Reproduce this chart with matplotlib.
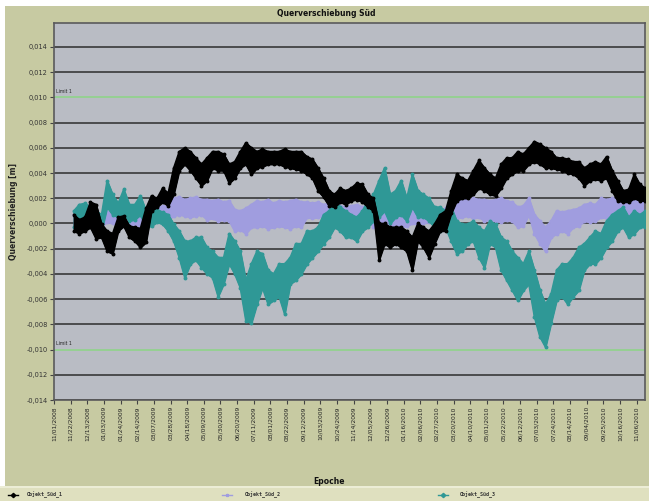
import numpy as np
import matplotlib.pyplot as plt
import matplotlib.dates as mdates
from matplotlib.lines import Line2D
from matplotlib.patches import Rectangle

# weekly samples, values in mm (upper / lower edge of the noisy band)
start = np.datetime64('2008-11-26')
step_days = 7

black_hi = [0.7, 0.3, 0.5, 1.7, 1.5, -0.05, -0.6, -0.8, 0.5, 0.6,
            -0.2, -0.3, -0.4, 1.2, 2.2, 2.0, 2.8, 2.4, 4.4, 5.7,
            6.0, 5.7, 5.2, 4.7, 5.2, 5.7, 5.7, 5.5, 4.7, 4.9,
            5.7, 6.4, 6.0, 5.7, 5.9, 5.7, 5.7, 5.7, 5.9, 5.7,
            5.7, 5.7, 5.3, 5.1, 4.4, 3.6, 2.6, 2.3, 2.8, 2.6,
            2.8, 3.2, 3.1, 2.3, 2.0, 0.0, 0.0, -0.3, -0.3, -0.3,
            -0.6, -1.1, 0.0, -0.3, -0.6, -0.05, 0.7, 1.0, 2.6, 3.9,
            3.6, 3.4, 4.2, 5.0, 4.4, 3.9, 3.6, 4.7, 5.2, 5.2,
            5.7, 5.5, 6.0, 6.5, 6.3, 6.0, 5.7, 5.2, 5.2, 5.1,
            4.9, 4.9, 4.4, 4.7, 4.9, 4.7, 5.3, 4.2, 3.4, 2.6,
            2.7, 3.9, 3.1, 2.8]
black_lo = [-0.6, -0.8, -0.6, -0.3, -1.2, -1.1, -2.2, -2.4, -0.6, -0.2,
            -1.1, -1.4, -1.9, -1.5, 1.0, 1.3, 1.7, 1.4, 2.3, 4.2,
            4.7, 4.2, 3.6, 3.0, 3.4, 4.4, 4.2, 4.2, 3.2, 3.6,
            4.4, 4.7, 3.9, 4.4, 4.5, 4.7, 4.7, 4.7, 4.5, 4.4,
            4.3, 4.2, 3.9, 3.6, 2.6, 2.1, 1.4, 1.3, 1.7, 1.5,
            1.8, 1.9, 1.7, 1.3, 1.0, -2.9, -1.6, -1.9, -1.6, -1.9,
            -2.2, -3.7, -1.4, -1.9, -2.7, -1.6, -0.6, -0.6, 0.8, 1.8,
            2.0, 2.0, 2.3, 2.8, 2.6, 2.3, 2.2, 2.8, 3.6, 3.9,
            4.2, 4.2, 4.7, 4.9, 4.7, 4.4, 4.4, 4.3, 4.2, 4.0,
            3.9, 3.6, 3.0, 3.4, 3.5, 3.4, 3.6, 2.6, 1.8, 1.7,
            1.7, 2.0, 1.8, 1.8]

lav_hi = [0.7, 0.6, 0.8, 0.7, 0.6, 0.7, 0.9, 1.0, 0.9, 0.8,
          0.7, 0.6, 0.7, 0.8, 1.3, 1.2, 1.4, 1.3, 2.0, 2.1,
          1.9, 2.0, 2.1, 1.9, 1.9, 1.8, 1.9, 1.7, 1.8, 1.1,
          1.0, 1.2, 1.5, 1.8, 1.7, 1.9, 1.6, 1.8, 1.7, 1.8,
          1.9, 1.7, 1.7, 1.6, 1.7, 1.5, 1.6, 1.7, 1.4, 1.3,
          1.4, 1.5, 1.3, 1.4, 1.0, 1.1, 0.9, 1.0, 1.1, 1.0,
          0.9, 1.0, 1.1, 1.0, 0.9, 1.0, 1.1, 1.2, 2.0, 1.9,
          2.0, 1.8, 2.0, 1.9, 1.9, 1.8, 1.9, 2.0, 1.8, 1.7,
          1.3, 1.4, 2.0, 0.7, 0.2, -0.3, 0.2, 1.0, 0.9, 1.0,
          1.1, 1.2, 1.5, 1.6, 1.5, 2.0, 1.9, 2.0, 1.8, 1.9,
          2.0, 1.9, 1.8, 1.9]
lav_lo = [-0.3, -0.2, -0.3, -0.2, -0.3, -0.2, 0.1, 0.0, 0.1, 0.1,
          -0.2, -0.1, -0.2, -0.1, 0.3, 0.4, 0.3, 0.3, 0.6, 0.7,
          0.6, 0.5, 0.6, 0.7, 0.3, 0.4, 0.2, 0.3, 0.2, -0.6,
          -0.5, -0.8, -0.3, -0.3, -0.2, -0.4, -0.3, -0.2, -0.3, -0.4,
          -0.2, -0.3, 0.5, 0.4, 0.5, 0.6, 0.4, 0.5, 0.3, 0.2,
          0.3, 0.4, 0.2, 0.3, -0.3, -0.2, -0.3, -0.4, -0.2, -0.3,
          -0.2, 0.0, -0.1, 0.0, 0.1, 0.0, -0.1, 0.0, 0.5, 0.4,
          0.5, 0.6, 0.4, 0.5, 0.2, 0.3, 0.2, 0.1, 0.3, 0.2,
          -0.3, -0.2, 0.7, -0.8, -1.6, -2.2, -1.1, -0.8, -0.6, -0.8,
          -0.3, -0.2, 0.2, 0.1, 0.2, 0.5, 0.4, 0.5, 0.6, 0.4,
          0.5, 0.4, 0.5, 0.6]

teal_hi = [1.0, 1.5, 1.6, 1.3, 1.0, 0.7, 3.4, 2.3, 1.6, 2.7,
           1.5, 1.5, 2.2, 1.0, 1.0, 1.1, 0.9, 0.7, -0.05, -0.6,
           -1.4, -1.4, -1.1, -1.1, -1.9, -2.2, -2.7, -2.7, -0.8, -1.4,
           -2.2, -4.5, -3.2, -2.2, -2.4, -3.7, -4.0, -3.2, -3.2, -2.7,
           -1.6, -1.6, -0.6, -0.6, -0.3, 0.7, 1.0, 1.8, 1.3, 1.0,
           0.7, 0.5, 1.0, 1.8, 2.3, 3.4, 4.4, 2.3, 2.6, 3.4,
           2.0, 3.9, 2.6, 2.3, 2.0, 1.3, 1.3, 1.0, 1.3, 0.2,
           -0.05, -0.05, 0.2, -0.3, -0.6, 0.2, -0.05, -1.1, -1.4, -2.2,
           -2.7, -3.2, -2.2, -3.7, -5.3, -6.4, -5.6, -3.7, -3.2, -3.2,
           -2.7, -1.9, -1.6, -1.1, -0.6, -0.8, 0.2, 0.7, 1.0, 1.3,
           0.5, 1.0, 0.7, 1.0]
teal_lo = [-0.3, 0.2, 0.5, -0.05, -0.6, -0.6, 1.3, 0.7, 0.5, 0.7,
           0.2, 0.3, 0.7, -0.3, -0.2, 0.1, -0.05, -0.6, -1.4, -2.7,
           -4.3, -3.2, -2.9, -3.5, -4.0, -4.3, -5.8, -4.8, -3.2, -4.0,
           -5.1, -7.7, -7.9, -6.4, -5.1, -6.4, -6.1, -5.8, -7.2, -4.8,
           -4.5, -4.0, -3.2, -2.7, -2.2, -1.6, -1.1, -0.3, -0.6, -1.1,
           -1.1, -1.4, -0.6, -0.3, 0.2, 0.5, 1.0, 0.0, 0.5, 0.7,
           0.2, 1.3, 0.5, 0.5, 0.2, -0.3, -0.6, -0.3, -1.4, -2.4,
           -2.2, -1.6, -1.4, -2.7, -3.5, -1.6, -1.9, -3.7, -4.5, -5.3,
           -6.1, -5.3, -4.8, -7.4, -9.0, -9.8, -7.9, -6.1, -5.8, -6.4,
           -5.8, -5.3, -3.7, -3.2, -3.2, -2.7, -1.9, -1.4, -0.6, -0.3,
           -1.1, -0.8, -0.3, -0.3]

names = ['Objekt_Süd_1', 'Objekt_Süd_2', 'Objekt_Süd_3']
limit = 0.010

olive = '#c7caa2'
plot_bg = '#b9bcc4'
c_black = '#000000'
c_lav = '#a09ddf'
c_teal = '#2f9896'

dates = start + np.arange(len(black_hi)) * np.timedelta64(step_days, 'D')

fig = plt.figure(figsize=(6.49, 5.01), dpi=100, facecolor='white')
W, H = 649, 501
fig.patches.append(Rectangle((5 / W, 14 / H), 1 - 5 / W, 1 - 20 / H,
                             transform=fig.transFigure, facecolor=olive,
                             edgecolor='none', zorder=-10))
fig.patches.append(Rectangle((0, 0), 1, 14 / H, transform=fig.transFigure,
                             facecolor='#dfe0bf', edgecolor='none', zorder=-10))
fig.patches.append(Rectangle((0, 13 / H), 1, 2 / H, transform=fig.transFigure,
                             facecolor='#ecedd6', edgecolor='none', zorder=-9))

ax = fig.add_axes([54 / W, 1 - 400 / H, (645 - 54) / W, (400 - 23) / H])
ax.set_facecolor(plot_bg)

yticks = np.arange(-0.014, 0.0141, 0.002)
for yv in yticks:
    if abs(abs(yv) - limit) < 1e-9:
        continue
    ax.axhline(yv, color='#4b4b4d', lw=1.4, zorder=1)
for yv in (limit, -limit):
    ax.axhline(yv, color='#8fd38a', lw=1.2, zorder=1)
    ax.text(np.datetime64('2008-11-03'), yv + 0.0003, 'Limit 1', fontsize=3.3,
            color='#222222', va='bottom', ha='left')

series = [(lav_lo, lav_hi, c_lav, 2), (teal_lo, teal_hi, c_teal, 3),
          (black_lo, black_hi, c_black, 4)]
for lo, hi, col, z in series:
    lo_m = np.array(lo) / 1000
    hi_m = np.array(hi) / 1000
    ax.fill_between(dates, lo_m, hi_m, color=col, lw=1.0, edgecolor=col, zorder=z)
    ax.plot(dates, hi_m, color=col, lw=1.2, marker='o', ms=1.8, zorder=z)
    ax.plot(dates, lo_m, color=col, lw=1.2, marker='o', ms=1.8, zorder=z)

x0 = np.datetime64('2008-11-01')
ax.set_xlim(x0, np.datetime64('2010-11-16T12'))
ax.set_ylim(-0.014, 0.0159)

xt = x0 + np.arange(36) * np.timedelta64(21, 'D')
ax.set_xticks(xt)
ax.xaxis.set_major_formatter(mdates.DateFormatter('%m/%d/%Y'))
ax.tick_params(axis='x', labelrotation=90, labelsize=4.3, length=3,
               color='#444444', labelcolor='#222222', pad=1.5)
ax.set_yticks(yticks)
ax.set_yticklabels([('%.3f' % v).replace('.', ',').replace('-0,000', '0,000')
                    for v in yticks])
ax.tick_params(axis='y', labelsize=4.8, length=3, color='#444444',
               labelcolor='#333333', pad=1.5)
for s in ax.spines.values():
    s.set_color('#5a5a5c')
    s.set_linewidth(1.2)

ax.set_ylabel('Querverschiebung [m]', fontsize=5.5, fontweight='bold',
              color='#222222', labelpad=6)
fig.text(329 / W, 1 - 481 / H, 'Epoche', fontsize=5.5, fontweight='bold',
         ha='center', va='center', color='#111111')
fig.text(326 / W, 1 - 13 / H, 'Querverschiebung Süd', fontsize=5.5,
         fontweight='bold', ha='center', va='center', color='#111111')

# legend row at the bottom
leg_y = 1 - 495 / H
for (mx, tx), col, mk, name in zip([(13, 27), (227, 245), (443, 460)],
                                   [c_black, c_lav, c_teal],
                                   ['D', '*', 'D'], names):
    fig.add_artist(Line2D([(mx - 5) / W, mx / W, (mx + 5) / W], [leg_y] * 3,
                          transform=fig.transFigure, color=col, lw=1.0,
                          marker=mk, ms=2.2, markevery=[1]))
    fig.text(tx / W, leg_y, name, fontsize=3.6, family='DejaVu Sans Mono',
             fontweight='bold', va='center', ha='left', color='#333333')

fig.savefig('out.png', dpi=100)
